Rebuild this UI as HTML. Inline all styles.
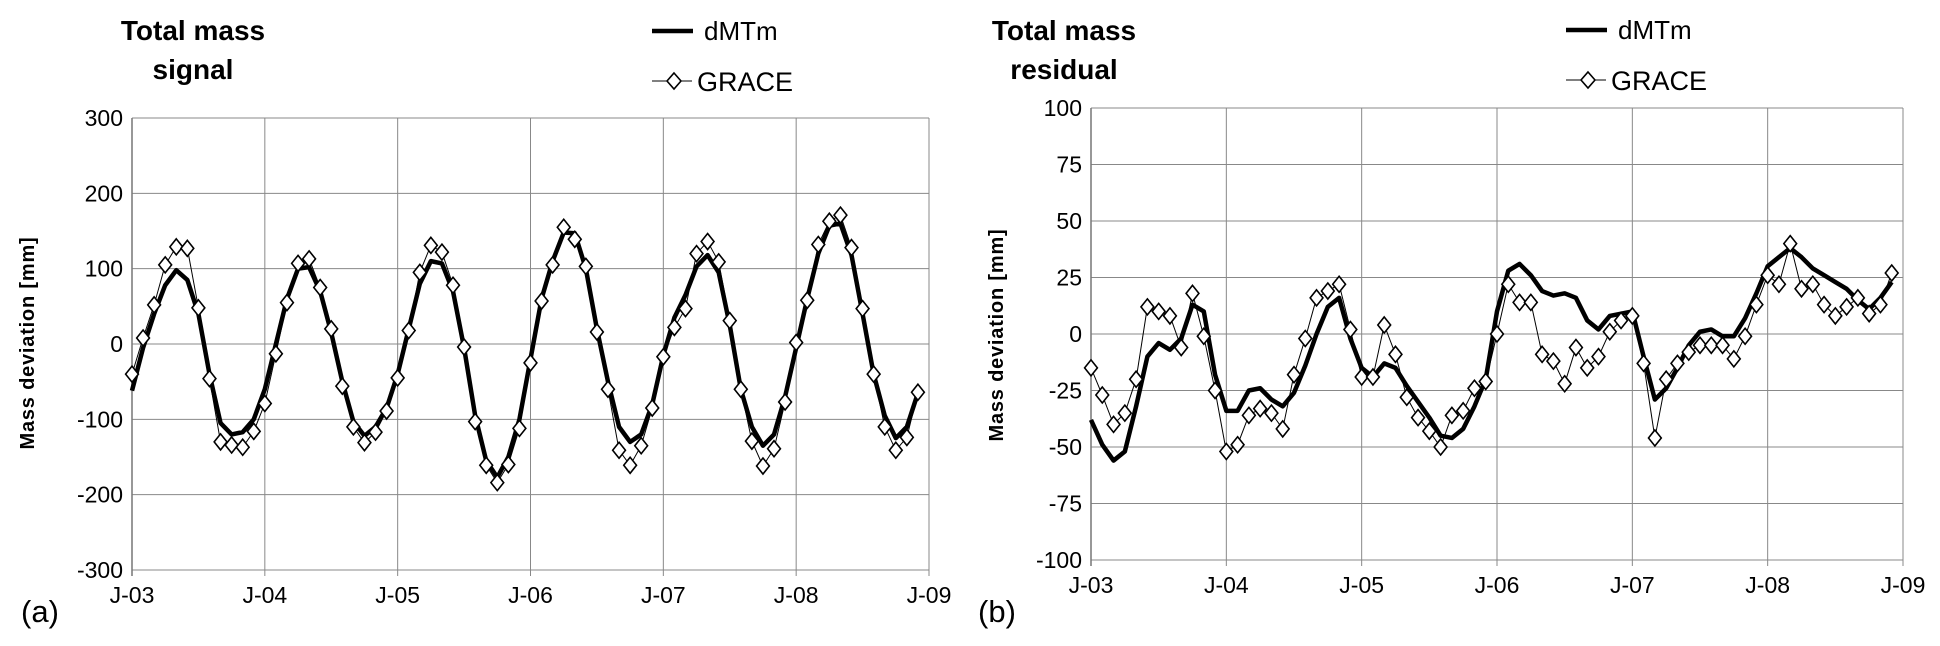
<!DOCTYPE html>
<html><head><meta charset="utf-8"><style>
html,body{margin:0;padding:0;background:#fff;}
svg{display:block;font-family:"Liberation Sans",Arial,sans-serif;}
</style></head><body>
<svg id="chart" width="1940" height="646" xmlns="http://www.w3.org/2000/svg"></svg>
<script>
const xLabels = ["J-03","J-04","J-05","J-06","J-07","J-08","J-09"];
const ticksA = [300,200,100,0,-100,-200,-300];
const ticksB = [100,75,50,25,0,-25,-50,-75,-100];
const dmtmA = [-62,-5,40,78,98,85,40,-40,-105,-120,-117,-100,-60,0,60,100,102,70,15,-50,-103,-122,-110,-85,-40,20,80,110,107,70,-5,-95,-155,-177,-150,-100,-20,60,110,148,147,100,20,-50,-110,-130,-120,-80,-15,35,65,103,118,95,25,-60,-110,-135,-120,-70,-5,60,120,157,160,118,40,-40,-95,-125,-110,-65];
const graceA = [-40,8,52,105,129,127,48,-46,-130,-134,-137,-116,-79,-13,55,107,113,75,20,-56,-110,-131,-117,-89,-45,18,95,131,122,78,-4,-103,-161,-184,-160,-112,-25,57,105,155,139,103,16,-60,-141,-161,-135,-85,-17,22,47,120,136,109,31,-60,-129,-162,-139,-77,2,58,132,163,171,128,47,-40,-110,-141,-124,-64];
const dmtmB = [-38,-49,-56,-52,-32,-10,-4,-7,-2,13,10,-18,-34,-34,-25,-24,-29,-32,-26,-14,0,12,16,-2,-15,-19,-13,-15,-23,-30,-37,-45,-46,-42,-32,-20,10,28,31,26,19,17,18,16,6,2,8,9,10,-10,-29,-24,-15,-5,1,2,-1,-1,7,18,30,34,38,34,29,26,23,20,15,11,16,23];
const graceB = [-15,-27,-40,-35,-20,12,10,8,-6,18,-1,-25,-52,-49,-36,-33,-35,-42,-18,-2,16,19,22,2,-19,-19,4,-9,-28,-37,-43,-50,-36,-34,-24,-21,0,22,14,14,-9,-12,-22,-6,-15,-10,1,6,8,-13,-46,-20,-13,-8,-5,-5,-5,-11,-1,13,26,22,40,20,22,13,8,12,16,9,13,27];

const NS="http://www.w3.org/2000/svg";
const svg=document.getElementById('chart');
function mk(tag,attrs,parent,txt){const e=document.createElementNS(NS,tag);for(const k in attrs)e.setAttribute(k,attrs[k]);if(txt!==undefined)e.textContent=txt;(parent||svg).appendChild(e);return e;}

function panel(o){
  const g=mk('g',{});
  
  
  const xs=m=>o.x0+(o.x1-o.x0)*m/72;
  const ys=v=>o.y0+(o.y1-o.y0)*(o.max-v)/(o.max-o.min);
  o.ticks.forEach(t=>{
    const l=mk('line',{x1:o.x0,x2:o.x1,y1:ys(t),y2:ys(t),stroke:'#888','stroke-width':1},g);
    
    
    const lab=mk('text',{x:o.x0-9,y:ys(t)+8,'text-anchor':'end','font-size':23,fill:'#000'},g,String(t));
    
    
  });
  xLabels.forEach((s,i)=>{
    const x=xs(i*12);
    const l=mk('line',{x1:x,x2:x,y1:o.y0,y2:o.y1+6,stroke:'#888','stroke-width':1},g);
    
    
    const lab=mk('text',{x:x,y:o.y1+33,'text-anchor':'middle','font-size':23,fill:'#000'},g,s);
    
    
  });
  const ax=mk('line',{x1:o.x0,x2:o.x0,y1:o.y0,y2:o.y1+6,stroke:'#777','stroke-width':1.5},g);
  
  
  const gp=o.grace.map((v,i)=>xs(i)+','+ys(v)).join(' ');
  const gl=mk('polyline',{points:gp,fill:'none',stroke:'#000','stroke-width':1},g);
  
  
  const dp=o.dmtm.map((v,i)=>xs(i)+','+ys(v)).join(' ');
  const dl=mk('polyline',{points:dp,fill:'none',stroke:'#000','stroke-width':4.5,'stroke-linejoin':'round'},g);
  
  
  o.grace.forEach((v,i)=>{
    const cx=xs(i),cy=ys(v),r=8;
    const d=mk('polygon',{points:`${cx},${cy-r} ${cx+r*0.8},${cy} ${cx},${cy+r} ${cx-r*0.8},${cy}`,fill:'#fff',stroke:'#000','stroke-width':1.6},g);
    
    
  });
  const t1=mk('text',{x:o.tx,y:40,'text-anchor':'middle','font-size':28,'font-weight':'bold',fill:'#000'},g,'Total mass');
  
  
  const t2=mk('text',{x:o.tx,y:79,'text-anchor':'middle','font-size':28,'font-weight':'bold',fill:'#000'},g,o.sub);
  
  
  const yt=mk('text',{x:0,y:0,transform:`translate(${o.ytx},${o.yty}) rotate(-90)`,'text-anchor':'middle','font-size':20,'font-weight':'bold','letter-spacing':0.8,fill:'#000','xml:space':'preserve'},g,'Mass deviation  [mm]');
  
  
  const pl=mk('text',{x:o.plx,y:622,'font-size':31,fill:'#000'},g,o.pl);
  
  
  const lg=mk('g',{},g);
  
  
  const l1=mk('line',{x1:o.lx,x2:o.lx+41,y1:o.ly,y2:o.ly,stroke:'#000','stroke-width':4.5},lg);
  
  
  const lt1=mk('text',{x:o.lx+52,y:o.ly+9,'font-size':26,fill:'#000'},lg,'dMTm');
  
  
  const gy=o.ly+50;
  const l2=mk('line',{x1:o.lx,x2:o.lx+40,y1:gy,y2:gy,stroke:'#000','stroke-width':1},lg);
  
  
  const cx=o.lx+22;
  const dm=mk('polygon',{points:`${cx},${gy-8} ${cx+7},${gy} ${cx},${gy+8} ${cx-7},${gy}`,fill:'#fff',stroke:'#000','stroke-width':1.6},lg);
  
  
  const lt2=mk('text',{x:o.lx+45,y:gy+10,'font-size':27,fill:'#000'},lg,'GRACE');
  
  
}
panel({name:'panel-a-signal',x0:132,x1:929,y0:118,y1:570,max:300,min:-300,ticks:ticksA,dmtm:dmtmA,grace:graceA,tx:193,sub:'signal',ytx:34,yty:343,plx:21,pl:'(a)',lx:652,ly:31});
panel({name:'panel-b-residual',x0:1091,x1:1903,y0:108,y1:560,max:100,min:-100,ticks:ticksB,dmtm:dmtmB,grace:graceB,tx:1064,sub:'residual',ytx:1003,yty:335,plx:978,pl:'(b)',lx:1566,ly:30});
</script>
</body></html>
